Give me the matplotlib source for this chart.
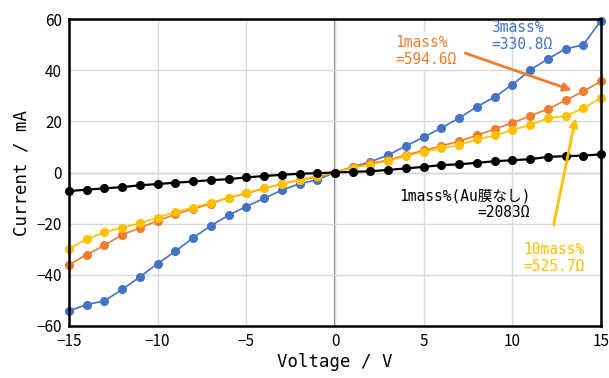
import matplotlib.pyplot as plt
import numpy as np

plt.rcParams['font.family'] = ['Noto Sans CJK JP', 'DejaVu Sans']
mono = ['DejaVu Sans Mono', 'Noto Sans CJK JP']

voltage = list(range(-15, 16))

# 3mass%
cur_3 = [-54.1, -51.6, -50.2, -45.7, -40.8, -35.6, -30.8, -25.5, -20.8, -16.7, -13.3, -10.1, -6.9, -4.4, -2.8,
         0.0, 2.2, 4.2, 6.8, 10.4, 13.8, 17.4, 21.3, 25.7, 29.5, 34.3, 40.0, 44.4, 48.3, 49.9, 59.4]
# 1mass%
cur_1 = [-36.1, -32.1, -28.5, -24.3, -21.7, -18.8, -16.4, -14.2, -12.2, -9.8, -8.2, -6.2, -4.5, -3.0, -1.7,
         0.0, 2.1, 3.6, 4.8, 6.9, 8.6, 10.4, 12.2, 14.5, 17.0, 19.4, 22.1, 24.8, 28.2, 31.7, 35.7]
# 10mass%
cur_10 = [-29.8, -26.1, -23.3, -21.6, -19.8, -17.6, -15.4, -13.7, -11.8, -9.8, -7.9, -6.2, -4.4, -2.8, -1.3,
          0.0, 1.9, 3.1, 4.5, 6.4, 8.1, 9.4, 10.8, 12.9, 14.5, 16.6, 18.6, 21.2, 22.1, 25.1, 29.2]
# 1mass% (no Au film)
cur_noau = [-7.25, -6.7, -6.2, -5.7, -5.0, -4.5, -4.0, -3.5, -3.0, -2.6, -1.9, -1.4, -0.9, -0.5, -0.26,
            0.0, 0.26, 0.5, 1.0, 1.6, 2.2, 2.9, 3.2, 3.8, 4.4, 4.8, 5.2, 6.1, 6.4, 6.6, 7.1]

x_ticks = [-15, -10, -5, 0, 5, 10, 15]
y_ticks = [-60, -40, -20, 0, 20, 40, 60]

blue = '#4472C4'
orange = '#ED7D31'
yellow = '#FFC000'

fig = plt.figure(figsize=(6.09, 3.78), dpi=100)
ax = fig.add_axes([69 / 609, 1 - 326 / 378, 532 / 609, 307 / 378])

ax.grid(True, color='#D9D9D9', linewidth=1.0, zorder=0)
ax.axvline(0, color='#808080', linewidth=1.5, zorder=1)
ax.axhline(0, color='#BFBFBF', linewidth=1.0, zorder=1)

ax.plot(voltage, cur_3, '-o', color=blue, lw=1.2, ms=5.5, zorder=3, clip_on=False)
ax.plot(voltage, cur_1, '-o', color=orange, lw=1.2, ms=5.5, zorder=4, clip_on=False)
ax.plot(voltage, cur_10, '-o', color=yellow, lw=1.2, ms=5.5, zorder=5, clip_on=False)
ax.plot(voltage, cur_noau, '-o', color='black', lw=1.6, ms=5.5, zorder=6, clip_on=False)

ax.set_xlim(-15, 15)
ax.set_ylim(-60, 60)
ax.set_xticks(x_ticks)
ax.set_yticks(y_ticks)
ax.set_xticklabels(['\u221215', '\u221210', '\u22125', '0', '5', '10', '15'])
ax.set_yticklabels(['\u221260', '\u221240', '\u221220', '0', '20', '40', '60'])
ax.tick_params(length=0, labelsize=11, pad=5)
for s in ax.spines.values():
    s.set_linewidth(1.8)
    s.set_zorder(7)

ax.set_xlabel('Voltage / V', fontsize=12.5, family=mono, labelpad=2)
ax.set_ylabel('Current / mA', fontsize=12.5, family=mono, labelpad=4)

# annotations
ax.text(8.8, 53.5, '3mass%\n=330.8\u03a9', color=blue, fontsize=10.5, family=mono,
        ha='left', va='center', linespacing=1.15, zorder=8)
ax.annotate('', xy=(13.5, 31.8), xytext=(7.2, 47.0),
            arrowprops=dict(arrowstyle='-|>', color=orange, lw=2, mutation_scale=12), zorder=8)
ax.text(3.4, 47.5, '1mass%\n=594.6\u03a9', color=orange, fontsize=10.5, family=mono,
        ha='left', va='center', linespacing=1.15, zorder=9,
        bbox=dict(facecolor='white', edgecolor='none', pad=2))
ax.text(11.0, -12.5, '1mass%(Au膜なし)\n=2083\u03a9', color='black', fontsize=10.5, family=mono,
        ha='right', va='center', linespacing=1.15, zorder=8)
ax.annotate('', xy=(13.6, 22.3), xytext=(12.3, -21.5),
            arrowprops=dict(arrowstyle='-|>', color=yellow, lw=2, mutation_scale=12), zorder=8)
ax.text(10.6, -33.5, '10mass%\n=525.7\u03a9', color=yellow, fontsize=10.5, family=mono,
        ha='left', va='center', linespacing=1.15, zorder=8)

fig.savefig('out.png', dpi=100)
